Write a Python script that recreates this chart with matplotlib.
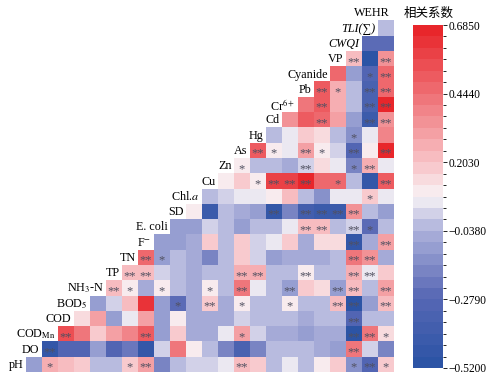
import numpy as np
import matplotlib
matplotlib.use("Agg")
import matplotlib.pyplot as plt
import matplotlib as mpl
from matplotlib.colors import LinearSegmentedColormap, BoundaryNorm

plt.rcParams["mathtext.fontset"] = "stix"

# ---- data -------------------------------------------------------------
variables = ["pH", "DO", "COD_Mn", "COD", "BOD5", "NH3-N", "TP", "TN", "F-",
             "E. coli", "SD", "Chl.a", "Cu", "Zn", "As", "Hg", "Cd", "Cr6+",
             "Pb", "Cyanide", "VP", "CWQI", "TLI", "WEHR"]
display_labels = ["pH", "DO", r"COD$_{\mathrm{Mn}}$", "COD", r"BOD$_{5}$",
                  r"NH$_{3}$-N", "TP", "TN", r"F$^{-}$", "E. coli", "SD",
                  r"Chl.$\mathit{a}$", "Cu", "Zn", "As", "Hg", "Cd",
                  r"Cr$^{6+}$", "Pb", "Cyanide", "VP", "CWQI", "TLI(∑)", "WEHR"]

# correlations of each variable with every later variable (upper triangle)
r_pH = [-0.08, 0.28, 0.22, 0.20, 0.00, 0.00, 0.20, 0.30, -0.16, 0.00, 0.04, 0.04,
        0.05, 0.22, 0.18, 0.00, 0.05, 0.00, 0.12, 0.18, -0.15, -0.30, 0.20]
r_DO = [-0.46, -0.30, -0.29, -0.08, -0.29, -0.20, -0.46, 0.04, 0.42, 0.12, 0.00,
        -0.18, -0.32, -0.18, 0.00, 0.00, 0.00, -0.06, -0.08, 0.42, 0.03, -0.18]
r_CODMn = [0.55, 0.42, 0.18, 0.30, 0.40, 0.50, -0.08, 0.20, -0.06, -0.06, 0.05,
           0.30, 0.03, -0.06, -0.06, -0.11, -0.06, -0.06, -0.49, 0.42, 0.14]
r_COD = [0.14, 0.30, -0.08, 0.05, 0.30, -0.08, 0.12, -0.06, -0.06, -0.04, 0.03,
         0.00, -0.02, -0.02, -0.06, -0.02, -0.02, -0.29, 0.00, 0.00]
r_BOD5 = [-0.08, 0.04, 0.22, 0.64, -0.08, -0.27, -0.06, 0.20, -0.06, 0.12, -0.01,
          0.00, 0.12, -0.01, 0.00, 0.24, -0.49, -0.08, 0.24]
r_NH3N = [0.22, 0.12, -0.04, 0.12, 0.00, -0.04, 0.12, 0.00, 0.42, 0.05, 0.00,
          -0.08, 0.20, 0.14, -0.08, 0.24, -0.01, 0.30]
r_TP = [0.24, 0.24, 0.04, 0.00, -0.06, 0.00, 0.00, 0.28, 0.28, 0.00, 0.00,
        0.12, 0.00, 0.00, 0.28, 0.05, 0.20]
r_TN = [0.45, -0.11, 0.00, -0.06, -0.16, 0.00, 0.20, 0.01, -0.08, -0.06, -0.06,
        -0.06, 0.00, 0.42, 0.33, -0.06]
r_F = [-0.11, -0.11, -0.06, 0.17, 0.00, 0.18, 0.01, 0.06, 0.17, -0.06, 0.13,
       0.13, -0.46, -0.06, 0.30]
r_Ecoli = [-0.08, -0.08, 0.04, -0.01, -0.08, -0.01, 0.00, 0.05, 0.24, 0.24,
           -0.01, 0.04, -0.25, -0.01]
r_SD = [0.12, -0.40, -0.01, -0.04, -0.11, -0.46, -0.16, -0.36, -0.42, -0.42, 0.33,
        -0.01, -0.11]
r_Chla = [-0.01, 0.04, 0.05, 0.05, 0.12, 0.22, -0.01, -0.14, 0.05, 0.05, 0.20, 0.05]
r_Cu = [0.12, 0.18, 0.12, 0.60, 0.58, 0.65, 0.45, 0.45, 0.00, -0.46, 0.50]
r_Zn = [0.12, 0.00, 0.00, -0.06, 0.01, 0.13, 0.05, -0.16, 0.28, 0.05]
r_As = [0.50, 0.10, 0.05, 0.32, 0.12, 0.01, -0.29, 0.12, 0.65]
r_Hg = [0.00, 0.05, 0.20, 0.13, 0.00, -0.14, 0.05, 0.40]
r_Cd = [0.35, 0.52, 0.45, 0.30, -0.08, -0.42, 0.33]
r_Cr = [0.42, 0.50, 0.28, 0.00, -0.32, 0.65]
r_Pb = [0.50, 0.25, 0.00, -0.32, 0.48]
r_Cyanide = [0.45, -0.08, -0.29, 0.45]
r_VP = [0.22, -0.49, 0.33]
r_CWQI = [-0.26, -0.26]
r_TLI = [-0.01]

# significance: 0 none, 1 = *, 2 = **
s_pH = [0, 1, 0, 0, 0, 0, 1, 2, 0, 0, 0, 0, 0, 2, 0, 0, 0, 0, 0, 0, 1, 2, 1]
s_DO = [2, 0, 0, 0, 0, 0, 0, 0, 0, 0, 0, 0, 0, 0, 0, 0, 0, 0, 0, 2, 0, 0]
s_CODMn = [2, 0, 0, 0, 0, 2, 0, 0, 0, 0, 0, 1, 0, 0, 0, 0, 0, 0, 2, 2, 1]
s_COD = [0, 0, 0, 0, 0, 0, 0, 0, 0, 0, 0, 0, 0, 0, 0, 0, 0, 2, 0, 0]
s_BOD5 = [0, 0, 0, 0, 0, 1, 0, 2, 0, 1, 0, 0, 1, 0, 0, 2, 2, 0, 2]
s_NH3N = [2, 1, 0, 1, 0, 0, 1, 0, 2, 0, 0, 2, 0, 0, 2, 2, 0, 2]
s_TP = [2, 2, 0, 0, 0, 0, 0, 2, 2, 0, 0, 2, 0, 0, 2, 2, 0]
s_TN = [2, 1, 0, 0, 0, 0, 0, 0, 0, 0, 0, 0, 0, 2, 2, 0]
s_F = [0, 0, 0, 0, 0, 0, 0, 0, 0, 0, 0, 0, 2, 0, 2]
s_Ecoli = [0, 0, 0, 0, 0, 0, 0, 0, 2, 2, 0, 2, 1, 0]
s_SD = [0, 0, 0, 0, 0, 2, 0, 2, 2, 2, 2, 0, 0]
s_Chla = [0, 0, 0, 0, 0, 0, 0, 0, 0, 0, 1, 0]
s_Cu = [0, 0, 1, 2, 2, 2, 0, 1, 0, 0, 2]
s_Zn = [1, 0, 0, 0, 2, 0, 0, 1, 2, 0]
s_As = [2, 1, 0, 2, 1, 0, 2, 0, 2]
s_Hg = [0, 0, 0, 0, 0, 1, 0, 0]
s_Cd = [0, 0, 2, 0, 0, 2, 2]
s_Cr = [0, 2, 0, 0, 2, 2]
s_Pb = [2, 1, 0, 2, 2]
s_Cyanide = [0, 0, 1, 2]
s_VP = [2, 0, 2]
s_CWQI = [0, 0]
s_TLI = [0]

rows = [r_pH, r_DO, r_CODMn, r_COD, r_BOD5, r_NH3N, r_TP, r_TN, r_F, r_Ecoli,
        r_SD, r_Chla, r_Cu, r_Zn, r_As, r_Hg, r_Cd, r_Cr, r_Pb, r_Cyanide,
        r_VP, r_CWQI, r_TLI]
sigs = [s_pH, s_DO, s_CODMn, s_COD, s_BOD5, s_NH3N, s_TP, s_TN, s_F, s_Ecoli,
        s_SD, s_Chla, s_Cu, s_Zn, s_As, s_Hg, s_Cd, s_Cr, s_Pb, s_Cyanide,
        s_VP, s_CWQI, s_TLI]

vmin, vmax = -0.52, 0.685
cbar_ticks = [-0.52, -0.279, -0.038, 0.203, 0.444, 0.685]
cbar_ticklabels = ["−0.5200", "−0.2790", "−0.0380", "0.2030", "0.4440", "0.6850"]
n_levels = 30

# ---- colormap ---------------------------------------------------------
def p(v):
    return (v - vmin) / (vmax - vmin)

base = LinearSegmentedColormap.from_list("bwr_custom", [
    (0.0, "#2C54A5"),
    (p(-0.279), "#5868B5"),
    (p(-0.038), "#AEB2DB"),
    (p(0.0825), "#F8F3F6"),
    (p(0.203), "#F8C4C8"),
    (p(0.444), "#EF7378"),
    (1.0, "#E8262B"),
])
cmap = base.resampled(n_levels)
bounds = np.linspace(vmin, vmax, n_levels + 1)
norm = BoundaryNorm(bounds, n_levels)

# ---- build matrix -----------------------------------------------------
n = len(variables)
M = np.full((n, n), np.nan)
for r, vals in enumerate(rows):
    for k, v in enumerate(vals):
        M[r, r + 1 + k] = v
Mm = np.ma.masked_invalid(M)

fig = plt.figure(figsize=(5, 3.81), dpi=100)
W, H = 500.0, 381.0
ax = fig.add_axes([9.5 / W, 1 - 372 / H, 384 / W, 367 / H])
ax.pcolormesh(np.arange(n + 1), np.arange(n + 1), Mm, cmap=cmap, norm=norm,
              edgecolors="none", antialiased=False)
ax.set_xlim(0, n)
ax.set_ylim(0, n)
ax.axis("off")

serif = ["Liberation Serif", "DejaVu Serif"]
for r, sg in enumerate(sigs):
    for k, s in enumerate(sg):
        if s:
            c = r + 1 + k
            ax.text(c + 0.5, r + 0.28, "*" * s, ha="center", va="center",
                    fontsize=9, color="#505060", family=serif)

italic_set = {"CWQI", "TLI"}
for i, lab in enumerate(display_labels):
    style = "italic" if variables[i] in italic_set else "normal"
    xoff = 0.75 if variables[i] == "WEHR" else 0.88
    ax.text(i + xoff, i + 0.45, lab, ha="right", va="center", fontsize=8.7,
            family=serif, style=style, clip_on=False)

# ---- colorbar ---------------------------------------------------------
cax = fig.add_axes([413 / W, 1 - 368 / H, 30 / W, 343 / H])
cb = mpl.colorbar.ColorbarBase(cax, cmap=cmap, norm=norm, boundaries=bounds,
                               ticks=cbar_ticks, orientation="vertical")
cb.outline.set_visible(False)
cb.ax.set_yticklabels(cbar_ticklabels)
cb.ax.tick_params(length=3, width=0.6, labelsize=8.3, pad=1)
for t in cb.ax.get_yticklabels():
    t.set_family(serif)

fig.text(429 / W, 1 - 13 / H, "相关系数", ha="center", va="center", fontsize=9,
         family=["Noto Sans CJK SC", "DejaVu Sans"])

fig.savefig("out.png", dpi=100)
